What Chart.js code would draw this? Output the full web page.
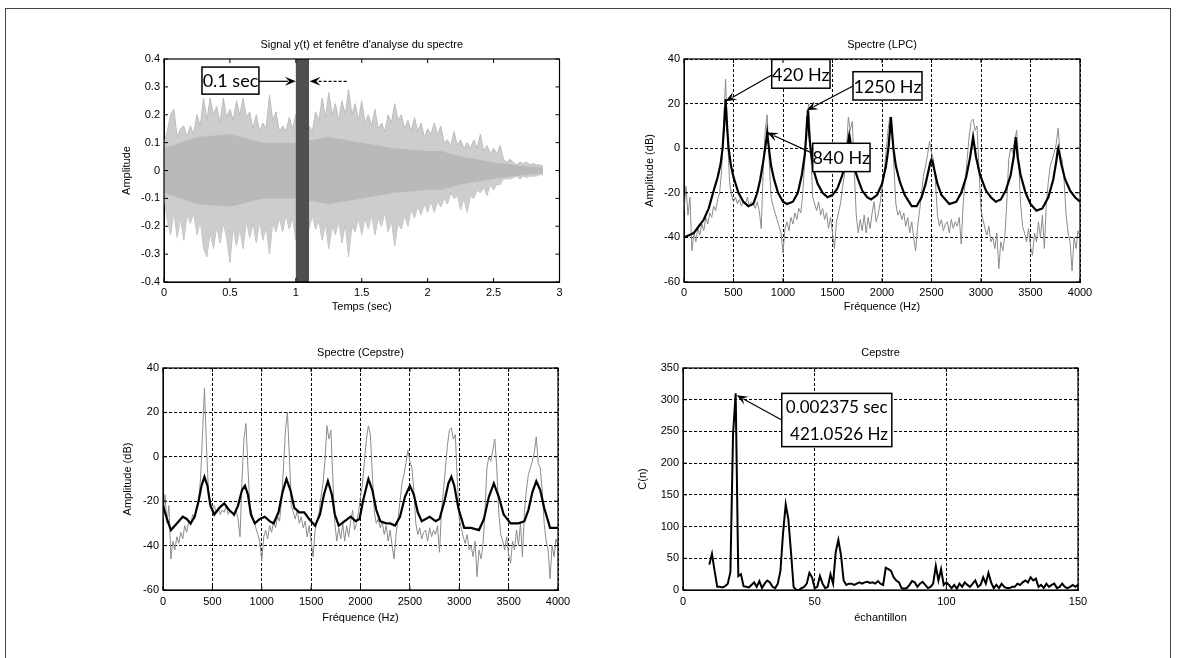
<!DOCTYPE html>
<html>
<head>
<meta charset="utf-8">
<script src="https://cdn.jsdelivr.net/npm/chart.js@4.4.1/dist/chart.umd.min.js"></script>
<style>
  html, body { margin: 0; padding: 0; background: #fff; width: 1177px; height: 658px; overflow: hidden; }
  #frame { position: absolute; left: 5px; top: 8px; width: 1164px; height: 700px; border: 1px solid #444; }
  .pane { position: absolute; }
</style>
</head>
<body>
<div id="frame"></div>
<div class="pane" style="left:100px;top:30px"><canvas id="c1" width="480" height="290"></canvas></div>
<div class="pane" style="left:620px;top:30px"><canvas id="c2" width="480" height="290"></canvas></div>
<div class="pane" style="left:100px;top:330px"><canvas id="c3" width="480" height="300"></canvas></div>
<div class="pane" style="left:620px;top:330px"><canvas id="c4" width="480" height="300"></canvas></div>
<script>
// ---- signal y(t): envelope read every 0.025 s ----
const waveStep = 0.025;
const waveUpper = [
  0.10, 0.14, 0.20, 0.22, 0.12, 0.15, 0.16, 0.12,
  0.16, 0.13, 0.20, 0.16, 0.26, 0.18, 0.26, 0.20,
  0.23, 0.17, 0.26, 0.19, 0.22, 0.18, 0.25, 0.20,
  0.26, 0.19, 0.21, 0.15, 0.20, 0.14, 0.17, 0.15,
  0.27, 0.18, 0.21, 0.14, 0.16, 0.14, 0.19, 0.15,
  0.20, 0.17, 0.21, 0.15, 0.16, 0.14, 0.21, 0.18,
  0.26, 0.19, 0.28, 0.20, 0.24, 0.18, 0.25, 0.20,
  0.29, 0.20, 0.24, 0.18, 0.25, 0.17, 0.20, 0.16,
  0.22, 0.15, 0.17, 0.14, 0.20, 0.17, 0.24, 0.18,
  0.20, 0.15, 0.18, 0.14, 0.19, 0.14, 0.17, 0.12,
  0.15, 0.13, 0.17, 0.13, 0.16, 0.10, 0.11, 0.09,
  0.14, 0.09, 0.11, 0.08, 0.10, 0.08, 0.11, 0.08,
  0.13, 0.07, 0.09, 0.06, 0.08, 0.06, 0.09, 0.04,
  0.03, 0.04, 0.03, 0.02, 0.03, 0.025, 0.03, 0.02,
  0.025, 0.02, 0.02, 0.015
];
const waveLower = [
  -0.10, -0.18, -0.23, -0.15, -0.24, -0.17, -0.25, -0.16,
  -0.19, -0.15, -0.23, -0.18, -0.28, -0.31, -0.22, -0.28,
  -0.20, -0.26, -0.19, -0.24, -0.33, -0.20, -0.27, -0.21,
  -0.28, -0.18, -0.24, -0.19, -0.26, -0.18, -0.25, -0.20,
  -0.30, -0.19, -0.22, -0.17, -0.22, -0.16, -0.21, -0.17,
  -0.25, -0.19, -0.24, -0.18, -0.21, -0.16, -0.21, -0.18,
  -0.25, -0.19, -0.28, -0.20, -0.23, -0.18, -0.26, -0.19,
  -0.31, -0.20, -0.22, -0.17, -0.23, -0.17, -0.21, -0.16,
  -0.23, -0.17, -0.20, -0.15, -0.22, -0.18, -0.27, -0.19,
  -0.21, -0.16, -0.20, -0.14, -0.17, -0.13, -0.16, -0.12,
  -0.15, -0.11, -0.15, -0.11, -0.13, -0.10, -0.12, -0.08,
  -0.10, -0.09, -0.14, -0.10, -0.15, -0.09, -0.10, -0.07,
  -0.08, -0.06, -0.09, -0.05, -0.07, -0.05, -0.05, -0.03,
  -0.03, -0.03, -0.025, -0.02, -0.03, -0.02, -0.025, -0.02,
  -0.02, -0.02, -0.015, -0.015
];
// denser core of the waveform
const coreT = [0, 0.25, 0.5, 0.75, 1.0, 1.25, 1.5, 1.75, 2.0, 2.1, 2.25, 2.5, 2.75, 2.875];
const coreUp = [0.08, 0.12, 0.13, 0.10, 0.10, 0.12, 0.10, 0.08, 0.07, 0.07, 0.05, 0.03, 0.015, 0.01];
const coreLo = [-0.08, -0.12, -0.13, -0.10, -0.10, -0.12, -0.10, -0.08, -0.07, -0.07, -0.05, -0.03, -0.015, -0.01];

// ---- FFT spectrum (dB), every 20 Hz from 0 to 4000 Hz ----
const fftStep = 20;
const fftDb = [
  -28, -17, -30, -22, -46, -38, -42, -36, -39, -34,
  -37, -31, -34, -29, -31, -26, -28, -23, -20, -10,
   10,  31,   5, -15, -21, -24, -22, -25, -23, -26,
  -24, -25, -22, -26, -24, -25, -27, -24, -28, -36,
  -10,   8,  15,  -5, -22, -26, -29, -32, -35, -38,
  -47, -36, -33, -37, -31, -34, -29, -32, -27, -29,
  -20,  -5,  12,  20,   0, -22, -25, -28, -24, -30,
  -27, -32, -29, -36, -31, -38, -45, -33, -29, -25,
  -18, -12,  -2,  14,   8,  12, -10, -30, -38, -32,
  -37, -30, -38, -31, -36, -29, -24, -33, -30, -25,
  -18, -12,  -2,   8,  14,  10,  -8, -25, -30, -28,
  -32, -29, -35, -31, -38, -33, -40, -46, -35, -28,
  -20, -12,  -8,  -3,   3,  -2,  -5, -15, -30, -35,
  -32, -37, -34, -33, -38, -32, -36, -33, -35, -31,
  -43, -25, -15,  -5,   5,  12,  13,   8,  10, -10,
  -28, -32, -36, -39, -35, -42, -40, -45, -38, -54,
  -42, -46, -40, -25,  -5,   0,  -2,   3,   8,  -5,
  -25, -35, -38, -42, -36, -44, -48, -38, -42, -33,
  -40, -30, -45, -25, -15,  -8,  -5,  -2,   2,   9,
   -3,  -5, -15, -30, -38, -42, -55, -40, -45, -37,
  -40
];

// ---- LPC envelope [Hz, dB] ----
const lpcCurve = [
  [0,-40],[50,-39],[100,-38],[150,-35],[200,-32],[250,-27],[300,-19],[340,-13],[370,-7],[390,0],
  [405,10],[415,18],[420,22],[425,18],[435,10],[450,0],[475,-8],[500,-13],[550,-20],[600,-24],
  [650,-26],[700,-25],[740,-20],[770,-14],[800,-6],[820,0],[835,5],[840,7],[845,5],[860,-1],
  [880,-8],[910,-14],[950,-20],[1000,-24],[1040,-25],[1100,-24],[1150,-20],[1190,-12],[1220,-3],[1235,6],
  [1245,14],[1250,17],[1255,14],[1265,6],[1285,-3],[1310,-10],[1350,-16],[1400,-20],[1450,-22],[1500,-21],
  [1550,-18],[1600,-12],[1630,-6],[1650,0],[1662,4],[1670,6],[1678,4],[1690,-1],[1710,-7],[1750,-13],
  [1800,-19],[1850,-22],[1890,-23],[1950,-21],[2000,-16],[2040,-8],[2065,0],[2080,8],[2090,14],[2100,8],
  [2115,0],[2140,-8],[2180,-15],[2230,-21],[2300,-26],[2350,-26],[2400,-22],[2440,-16],[2470,-10],[2490,-6],
  [2500,-5],[2510,-6],[2530,-10],[2560,-16],[2600,-21],[2680,-25],[2750,-24],[2800,-20],[2850,-13],[2890,-4],
  [2910,2],[2920,5],[2930,2],[2950,-4],[2990,-12],[3050,-19],[3100,-22],[3150,-24],[3200,-23],[3250,-19],
  [3300,-12],[3330,-4],[3345,3],[3350,5],[3355,3],[3370,-4],[3400,-12],[3450,-20],[3500,-25],[3560,-28],
  [3620,-27],[3680,-22],[3730,-14],[3760,-6],[3775,-1],[3780,0],[3790,-2],[3810,-7],[3850,-14],[3900,-19],
  [3950,-22],[4000,-24]
];

// ---- cepstrally smoothed spectrum [Hz, dB] ----
const cepSmooth = [
  [0,-22],[40,-28],[80,-33],[140,-30],[200,-27],[240,-28],[280,-30],[320,-27],[360,-20],[390,-13],
  [420,-9],[450,-13],[480,-22],[520,-26],[570,-23],[620,-21],[670,-24],[720,-26],[760,-22],[800,-15],
  [830,-13],[860,-17],[890,-26],[930,-30],[980,-28],[1030,-27],[1080,-29],[1120,-30],[1170,-25],[1210,-16],
  [1250,-10],[1290,-15],[1330,-23],[1380,-25],[1430,-25],[1480,-28],[1540,-31],[1590,-26],[1630,-17],[1670,-11],
  [1710,-17],[1740,-26],[1780,-31],[1840,-29],[1900,-27],[1950,-29],[1990,-28],[2030,-19],[2080,-10],[2120,-15],
  [2160,-24],[2200,-29],[2260,-30],[2300,-30],[2350,-31],[2400,-27],[2450,-18],[2500,-13],[2540,-17],[2580,-25],
  [2620,-29],[2700,-27],[2760,-29],[2800,-28],[2850,-20],[2890,-12],[2920,-9],[2950,-13],[2990,-23],[3050,-32],
  [3120,-32],[3200,-33],[3250,-28],[3300,-18],[3350,-12],[3400,-18],[3450,-26],[3520,-30],[3600,-30],[3660,-29],
  [3700,-24],[3740,-16],[3780,-11],[3820,-15],[3860,-23],[3920,-32],[4000,-32]
];

// ---- cepstrum C(n), n = 10 .. 150 ----
const cepFirstN = 10;
const cepC = [
  40, 57, 30, 5, 5, 4, 6, 10, 28, 245,
  310, 22, 25, 6, 5, 4, 8, 12, 5, 14,
  3, 10, 15, 12, 5, 3, 10, 30, 90, 135,
  112, 60, 5, 0, 0, 3, 5, 10, 27, 20,
  3, 5, 22, 10, 3, 5, 25, 10, 60, 79,
  55, 15, 8, 10, 10, 8, 10, 12, 10, 12,
  13, 11, 12, 10, 14, 10, 8, 35, 33, 30,
  20, 15, 12, 3, 2, 3, 8, 14, 12, 5,
  10, 13, 8, 3, 5, 10, 38, 15, 33, 8,
  12, 8, 3, 8, 2, 10, 5, 12, 8, 5,
  10, 15, 5, 8, 20, 10, 27, 12, 3, 8,
  3, 10, 5, 3, 3, 5, 5, 10, 8, 12,
  15, 12, 20, 15, 18, 5, 8, 3, 10, 5,
  8, 10, 3, 5, 10, 5, 3, 5, 8, 5, 8
];

// ---- tick values ----
const ticksTime = [0, 0.5, 1, 1.5, 2, 2.5, 3];
const ticksAmp = [-0.4, -0.3, -0.2, -0.1, 0, 0.1, 0.2, 0.3, 0.4];
const ticksHz = [0, 500, 1000, 1500, 2000, 2500, 3000, 3500, 4000];
const ticksDb = [-60, -40, -20, 0, 20, 40];
const ticksN = [0, 50, 100, 150];
const ticksC = [0, 50, 100, 150, 200, 250, 300, 350];

const ink = '#000';
const face = '"Liberation Sans", Arial, sans-serif';

const wavePts = arr => arr.map((v, i) => ({x: i * waveStep, y: v}));
const corePts = arr => arr.map((v, i) => ({x: coreT[i], y: v}));
const fftPts = fftDb.map((v, i) => ({x: i * fftStep, y: v}));
const pairPts = arr => arr.map(p => ({x: p[0], y: p[1]}));
const cepPts = cepC.map((v, i) => ({x: cepFirstN + i, y: v}));

// boxes, arrows and the analysis window, in data units
const notesPlugin = {
  id: 'notes',
  afterDatasetsDraw(chart, args, opts) {
    const {ctx, chartArea: a} = chart;
    const px = v => chart.scales.x.getPixelForValue(v);
    const py = v => chart.scales.y.getPixelForValue(v);
    ctx.save();
    (opts.bands || []).forEach(b => {
      ctx.fillStyle = b.color;
      ctx.fillRect(px(b.x0), a.top, px(b.x1) - px(b.x0), a.height);
    });
    (opts.arrows || []).forEach(r => {
      const x0 = px(r.from[0]), y0 = py(r.from[1]);
      const x1 = px(r.to[0]), y1 = py(r.to[1]);
      const ang = Math.atan2(y1 - y0, x1 - x0);
      const c = Math.cos(ang), s = Math.sin(ang);
      const L = 11, W = 4.5;
      ctx.strokeStyle = ink;
      ctx.lineWidth = 1.2;
      ctx.setLineDash(r.dash ? [3, 2] : []);
      ctx.beginPath();
      ctx.moveTo(x0, y0);
      ctx.lineTo(x1 - L * 0.7 * c, y1 - L * 0.7 * s);
      ctx.stroke();
      ctx.setLineDash([]);
      ctx.beginPath();
      ctx.moveTo(x1, y1);
      ctx.lineTo(x1 - L * c + W * s, y1 - L * s - W * c);
      ctx.lineTo(x1 - L * 0.6 * c, y1 - L * 0.6 * s);
      ctx.lineTo(x1 - L * c - W * s, y1 - L * s + W * c);
      ctx.closePath();
      ctx.fillStyle = ink;
      ctx.fill();
    });
    (opts.boxes || []).forEach(b => {
      const l = px(b.x0), r = px(b.x1), t = py(b.y0), btm = py(b.y1);
      const w = r - l, h = btm - t;
      ctx.fillStyle = '#fff';
      ctx.fillRect(l, t, w, h);
      ctx.strokeStyle = ink;
      ctx.lineWidth = 1.5;
      ctx.strokeRect(l, t, w, h);
      ctx.fillStyle = ink;
      ctx.font = b.size + 'px Lato, "Open Sans", sans-serif';
      ctx.textAlign = 'center';
      ctx.textBaseline = 'middle';
      const lh = h / b.lines.length;
      b.lines.forEach((txt, i) => ctx.fillText(txt, l + w / 2, t + lh * (i + 0.5) + 1));
    });
    ctx.restore();
  }
};

// MATLAB style box with inward ticks
const matlabBox = {
  id: 'matlabBox',
  afterDraw(chart) {
    const {ctx, chartArea: a, scales: {x, y}} = chart;
    ctx.save();
    ctx.strokeStyle = ink;
    ctx.lineWidth = 1;
    ctx.beginPath();
    x.ticks.forEach(t => {
      const p = x.getPixelForValue(t.value);
      ctx.moveTo(p, a.bottom); ctx.lineTo(p, a.bottom - 4);
      ctx.moveTo(p, a.top); ctx.lineTo(p, a.top + 4);
    });
    y.ticks.forEach(t => {
      const p = y.getPixelForValue(t.value);
      ctx.moveTo(a.left, p); ctx.lineTo(a.left + 4, p);
      ctx.moveTo(a.right, p); ctx.lineTo(a.right - 4, p);
    });
    ctx.stroke();
    ctx.lineWidth = 1.2;
    ctx.strokeRect(a.left, a.top, a.right - a.left, a.bottom - a.top);
    ctx.restore();
  }
};

function axis(tickVals, fitSize, isX, title, titlePad, tickPad, grid) {
  return {
    type: 'linear',
    min: tickVals[0],
    max: tickVals[tickVals.length - 1],
    afterBuildTicks: s => { s.ticks = tickVals.map(v => ({value: v})); },
    afterFit: s => { if (isX) s.height = fitSize; else s.width = fitSize; },
    ticks: {
      color: ink, padding: tickPad, autoSkip: false, maxRotation: 0,
      font: {family: face, size: 11},
      callback: v => String(+Number(v).toFixed(3))
    },
    grid: {display: grid, color: ink, lineWidth: 1, drawTicks: false},
    border: {display: true, color: ink, width: 1, dash: [3, 2]},
    title: {
      display: true, text: title, color: ink,
      font: {family: face, size: 11},
      padding: isX ? {top: 0, bottom: titlePad} : {top: titlePad, bottom: 0}
    }
  };
}

function panel(id, o) {
  return new Chart(document.getElementById(id), {
    type: 'line',
    data: {datasets: o.datasets},
    plugins: [notesPlugin, matlabBox],
    options: {
      responsive: false,
      animation: false,
      layout: {padding: {left: 0, right: o.padRight, top: 0, bottom: 0}},
      elements: {point: {radius: 0}, line: {tension: 0}},
      plugins: {
        legend: {display: false},
        tooltip: {enabled: false},
        title: {
          display: true, text: o.title, fullSize: false, color: ink,
          font: {family: face, size: 11, weight: 'normal'},
          padding: {top: o.titleTop, bottom: o.titleBottom}
        },
        notes: o.notes
      },
      scales: {
        x: axis(o.xTicks, o.xAxisH, true, o.xTitle, o.xTitlePad, o.xTickPad, o.grid),
        y: axis(o.yTicks, o.yAxisW, false, o.yTitle, o.yTitlePad, 4, o.grid)
      }
    }
  });
}

// lower dataset index is drawn on top
panel('c1', {
  title: "Signal y(t) et fenêtre d'analyse du spectre",
  titleTop: 8.4, titleBottom: 7.4, padRight: 20.5, xAxisH: 38, yAxisW: 64,
  xTicks: ticksTime, yTicks: ticksAmp, xTitle: 'Temps (sec)', yTitle: 'Amplitude',
  xTitlePad: 6.7, yTitlePad: 20, xTickPad: 4, grid: false,
  datasets: [
    {data: corePts(coreUp), borderWidth: 0, backgroundColor: '#b9b9b9', fill: '+1'},
    {data: corePts(coreLo), borderWidth: 0, fill: false},
    {data: wavePts(waveUpper), borderColor: '#bdbdbd', borderWidth: 1, backgroundColor: '#cdcdcd', fill: '+1'},
    {data: wavePts(waveLower), borderColor: '#bdbdbd', borderWidth: 1, fill: false}
  ],
  notes: {
    bands: [{x0: 1.0, x1: 1.1, color: '#4f4f4f'}],
    arrows: [
      {from: [0.72, 0.32], to: [1.0, 0.32]},
      {from: [1.385, 0.32], to: [1.105, 0.32], dash: true}
    ],
    boxes: [{x0: 0.288, x1: 0.72, y0: 0.371, y1: 0.274, lines: ['0.1 sec'], size: 18}]
  }
});

panel('c2', {
  title: 'Spectre (LPC)',
  titleTop: 8.4, titleBottom: 7.4, padRight: 20, xAxisH: 38, yAxisW: 64,
  xTicks: ticksHz, yTicks: ticksDb, xTitle: 'Fréquence (Hz)', yTitle: 'Amplitude (dB)',
  xTitlePad: 6.7, yTitlePad: 23, xTickPad: 4, grid: true,
  datasets: [
    {data: pairPts(lpcCurve), borderColor: '#000', borderWidth: 2.2, fill: false},
    {data: fftPts, borderColor: '#8c8c8c', borderWidth: 1, fill: false}
  ],
  notes: {
    arrows: [
      {from: [886, 32.8], to: [420, 21]},
      {from: [1707, 27.9], to: [1240, 17]},
      {from: [1300, -2.3], to: [840, 7]}
    ],
    boxes: [
      {x0: 886, x1: 1475, y0: 39.8, y1: 26.9, lines: ['420 Hz'], size: 18},
      {x0: 1707, x1: 2404, y0: 34.3, y1: 21.6, lines: ['1250 Hz'], size: 18},
      {x0: 1300, x1: 1879, y0: 2.2, y1: -10.5, lines: ['840 Hz'], size: 18}
    ]
  }
});

panel('c3', {
  title: 'Spectre (Cepstre)',
  titleTop: 16.4, titleBottom: 8.4, padRight: 22, xAxisH: 40, yAxisW: 63,
  xTicks: ticksHz, yTicks: ticksDb, xTitle: 'Fréquence (Hz)', yTitle: 'Amplitude (dB)',
  xTitlePad: 5.7, yTitlePad: 21.5, xTickPad: 5.5, grid: true,
  datasets: [
    {data: pairPts(cepSmooth), borderColor: '#000', borderWidth: 2.2, fill: false},
    {data: fftPts, borderColor: '#8c8c8c', borderWidth: 1, fill: false}
  ],
  notes: {}
});

panel('c4', {
  title: 'Cepstre',
  titleTop: 16.4, titleBottom: 8.4, padRight: 22, xAxisH: 40, yAxisW: 63,
  xTicks: ticksN, yTicks: ticksC, xTitle: 'échantillon', yTitle: 'C(n)',
  xTitlePad: 5.3, yTitlePad: 16.5, xTickPad: 5.5, grid: true,
  datasets: [
    {data: cepPts, borderColor: '#000', borderWidth: 2, fill: false}
  ],
  notes: {
    arrows: [{from: [37.5, 268], to: [20.4, 307]}],
    boxes: [{x0: 37.5, x1: 79.3, y0: 310, y1: 226, lines: ['0.002375 sec', ' 421.0526 Hz'], size: 17}]
  }
});
</script>
</body>
</html>
